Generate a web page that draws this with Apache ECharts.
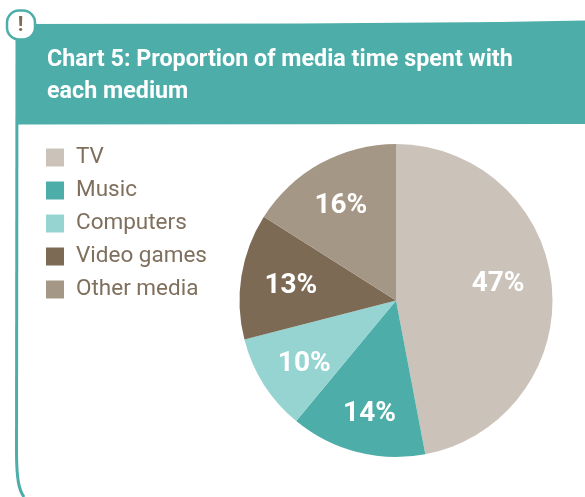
<!DOCTYPE html>
<html>
<head>
<meta charset="utf-8">
<style>html,body{margin:0;padding:0;background:#fff}#c{width:585px;height:497px}</style>
<script src="https://cdn.jsdelivr.net/npm/echarts@6/dist/echarts.min.js"></script>
</head>
<body>
<div id="c"></div>
<script>
const categories = ['TV', 'Music', 'Computers', 'Video games', 'Other media'];
const shares = [47, 14, 10, 13, 16];
const colors = ['#cbc2b9', '#4dada8', '#96d4d2', '#7d6a55', '#a59786'];
const titleLines = 'Chart 5: Proportion of media time spent with\neach medium';

const chart = echarts.init(document.getElementById('c'), null, {renderer: 'canvas'});
const FONT = 'Roboto';
const cx = 396, cy = 300.5;
const labelNudge = [[-12, -6], [2, 3], [5, 2], [8, 3], [0, 6]];
chart.setOption({
  animation: false,
  backgroundColor: '#fff',
  title: {
    text: titleLines, left: 42, top: 39,
    textStyle: {color: '#fff', fontFamily: FONT, fontWeight: 'bold', fontSize: 23.3, lineHeight: 32}
  },
  legend: {
    orient: 'vertical', left: 41, top: 141, itemWidth: 18, itemHeight: 18, itemGap: 10,
    icon: 'rect', selectedMode: false,
    data: categories,
    textStyle: {color: '#7f6f5d', fontFamily: FONT, fontSize: 22.5, padding: [0, 0, 0, 7], lineHeight: 18}
  },
  series: [{
    type: 'pie', center: [cx, cy], radius: [0, 156.5], startAngle: 90, clockwise: true,
    silent: true,
    data: categories.map((name, i) => ({name, value: shares[i], itemStyle: {color: colors[i]}})),
    label: {
      position: 'inner', formatter: '{c}%',
      color: '#fff', fontFamily: FONT, fontWeight: 'bold', fontSize: 28
    },
    labelLine: {show: false},
    labelLayout: function (p) {
      const r = p.labelRect;
      const lx = r.x + r.width / 2 - cx, ly = r.y + r.height / 2 - cy;
      const f = 1.41, n = labelNudge[p.dataIndex];
      return {dx: lx * (f - 1) + n[0], dy: ly * (f - 1) + n[1]};
    }
  }],
  graphic: {elements: [
    {type: 'polygon', silent: true, z: -2,
      shape: {points: [[17, 24], [300, 23.5], [500, 22], [585, 20.5], [585, 124], [17, 124.5]]},
      style: {fill: '#4dada8'}},
    {type: 'line', silent: true, z: -2,
      shape: {x1: 17, y1: 40, x2: 16.5, y2: 450},
      style: {stroke: '#4dada8', lineWidth: 3}},
    {type: 'bezierCurve', silent: true, z: -2,
      shape: {x1: 16.5, y1: 450, cpx1: 16.5, cpy1: 480, cpx2: 19, cpy2: 490, x2: 24, y2: 497},
      style: {fill: 'none', stroke: '#4dada8', lineWidth: 3}},
    {type: 'rect', silent: true, z: 5,
      shape: {x: 7, y: 10.5, width: 28, height: 29, r: 12},
      style: {fill: '#fff', stroke: '#4dada8', lineWidth: 2.5}},
    {type: 'text', silent: true, z: 6,
      style: {text: '!', x: 20.5, y: 26, align: 'center', verticalAlign: 'middle', fill: '#7d6a55', fontFamily: FONT, fontWeight: 'bold', fontSize: 21}}
  ]}
});
</script>
</body>
</html>
